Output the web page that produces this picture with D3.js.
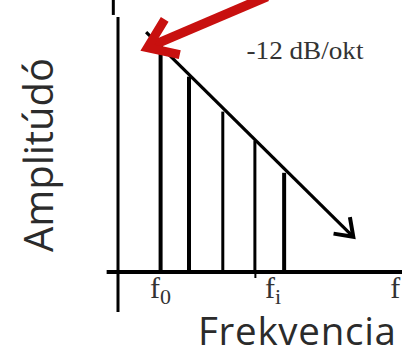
<!DOCTYPE html>
<html><head><meta charset="utf-8">
<script src="https://cdn.jsdelivr.net/npm/d3@7"></script>
<style>html,body{margin:0;padding:0;background:#fff;overflow:hidden}</style>
</head><body>
<script>
// ---- data (arbitrary units) ----
const harmonicFreq = [15, 25, 36.9, 48.2, 58.5];
const harmonicAmp  = [87.1, 76.6, 62.9, 51.5, 38.9];
const slopeLine = [[9.9, 94.1], [82.85, 13.8]];       // -12 dB/okt trend arrow
const redArrow  = [[52.5, 108], [10.4, 88]];           // pointer arrow (from, to)
const tickValuesX = [48.2];
const freqLabels = [{t:"f", sub:"0", x:15}, {t:"f", sub:"i", x:54.6}, {t:"f", sub:"", x:97.6}];
const slopeText = "-12 dB/okt";
const yTitle = "Amplitúdó";
const xTitle = "Frekvencia";

const W = 402, H = 350;
const x = d3.scaleLinear().domain([0, 100]).range([118, 402]);
const y = d3.scaleLinear().domain([0, 100]).range([272, 17]);

const svg = d3.select("body").append("svg").attr("width", W).attr("height", H);
svg.append("rect").attr("width", W).attr("height", H).attr("fill", "#fff");

// axes
svg.append("line").attr("x1", x(-1.65)).attr("x2", x(-1.65)).attr("y1", y(107)).attr("y2", y(100.8))
  .attr("stroke", "#000").attr("stroke-width", 3);
svg.append("line").attr("x1", x(0)).attr("x2", x(0)).attr("y1", y(100)).attr("y2", y(-15.7))
  .attr("stroke", "#000").attr("stroke-width", 3);
const xAxis = d3.axisBottom(x).tickValues(tickValuesX).tickSize(6).tickFormat("");
const gx = svg.append("g").attr("transform", `translate(0,${y(0)})`).call(xAxis);
gx.select(".domain").remove();
gx.selectAll(".tick line").attr("stroke", "#000").attr("stroke-width", 2);
svg.append("line").attr("x1", x(-4)).attr("x2", x(100)).attr("y1", y(0)).attr("y2", y(0))
  .attr("stroke", "#000").attr("stroke-width", 4);

// harmonic bars
svg.selectAll(".bar").data(harmonicFreq).enter().append("line")
  .attr("x1", d => x(d)).attr("x2", d => x(d))
  .attr("y1", y(0)).attr("y2", (d, i) => y(harmonicAmp[i]))
  .attr("stroke", "#000").attr("stroke-width", (d, i) => (i === 2 || i === 3) ? 3 : 4);

// slope arrow
const [s0, s1] = slopeLine;
svg.append("line").attr("x1", x(s0[0])).attr("y1", y(s0[1])).attr("x2", x(s1[0])).attr("y2", y(s1[1]))
  .attr("stroke", "#000").attr("stroke-width", 3.2);
{
  const tx = x(s1[0]), ty = y(s1[1]);
  const ang = Math.atan2(y(s1[1]) - y(s0[1]), x(s1[0]) - x(s0[0]));
  const L = 20, a = 0.62;
  const p1 = [tx - L * Math.cos(ang - a), ty - L * Math.sin(ang - a)];
  const p2 = [tx - L * Math.cos(ang + a), ty - L * Math.sin(ang + a)];
  svg.append("path").attr("d", `M${p1}L${tx},${ty}L${p2}`).attr("fill", "none")
    .attr("stroke", "#000").attr("stroke-width", 4);
}

// red pointer arrow
{
  const [r0, r1] = redArrow;
  const fx = x(r0[0]), fy = y(r0[1]), tx = x(r1[0]), ty = y(r1[1]);
  const ang = Math.atan2(ty - fy, tx - fx);
  svg.append("line").attr("x1", fx).attr("y1", fy)
    .attr("x2", tx - 6 * Math.cos(ang)).attr("y2", ty - 6 * Math.sin(ang))
    .attr("stroke", "#c8100f").attr("stroke-width", 9.5);
  const L = 33, a = 0.62;
  const p1 = [tx - L * Math.cos(ang - a), ty - L * Math.sin(ang - a)];
  const p2 = [tx - L * Math.cos(ang + a), ty - L * Math.sin(ang + a)];
  svg.append("path").attr("d", `M${p1}L${tx},${ty}L${p2}`).attr("fill", "none")
    .attr("stroke", "#c8100f").attr("stroke-width", 9).attr("stroke-linejoin", "miter")
    .attr("stroke-miterlimit", 10);
}

// frequency labels
const fl = svg.selectAll(".fl").data(freqLabels).enter().append("text")
  .attr("x", d => x(d.x)).attr("y", 298).attr("text-anchor", "middle")
  .attr("font-family", "Liberation Serif, serif").attr("font-size", 30).attr("fill", "#333");
fl.append("tspan").text(d => d.t);
fl.append("tspan").attr("dy", 6).attr("font-size", 22).text(d => d.sub);

// slope text
svg.append("text").attr("x", 246.5).attr("y", 58.5)
  .attr("font-family", "Liberation Serif, serif").attr("font-size", 26).attr("fill", "#333")
  .attr("textLength", 117).attr("lengthAdjust", "spacingAndGlyphs")
  .text(slopeText);

// axis titles
svg.append("text").attr("transform", "translate(53,155) rotate(-90)").attr("text-anchor", "middle")
  .attr("font-family", "Open Sans, sans-serif").attr("font-size", 40).attr("fill", "#2b2b2b")
  .attr("textLength", 194).attr("lengthAdjust", "spacing")
  .text(yTitle);
svg.append("text").attr("x", 198).attr("y", 344.5)
  .attr("font-family", "Open Sans, sans-serif").attr("font-size", 38.5).attr("fill", "#2b2b2b")
  .attr("textLength", 198).attr("lengthAdjust", "spacing")
  .text(xTitle);
</script>
</body></html>
